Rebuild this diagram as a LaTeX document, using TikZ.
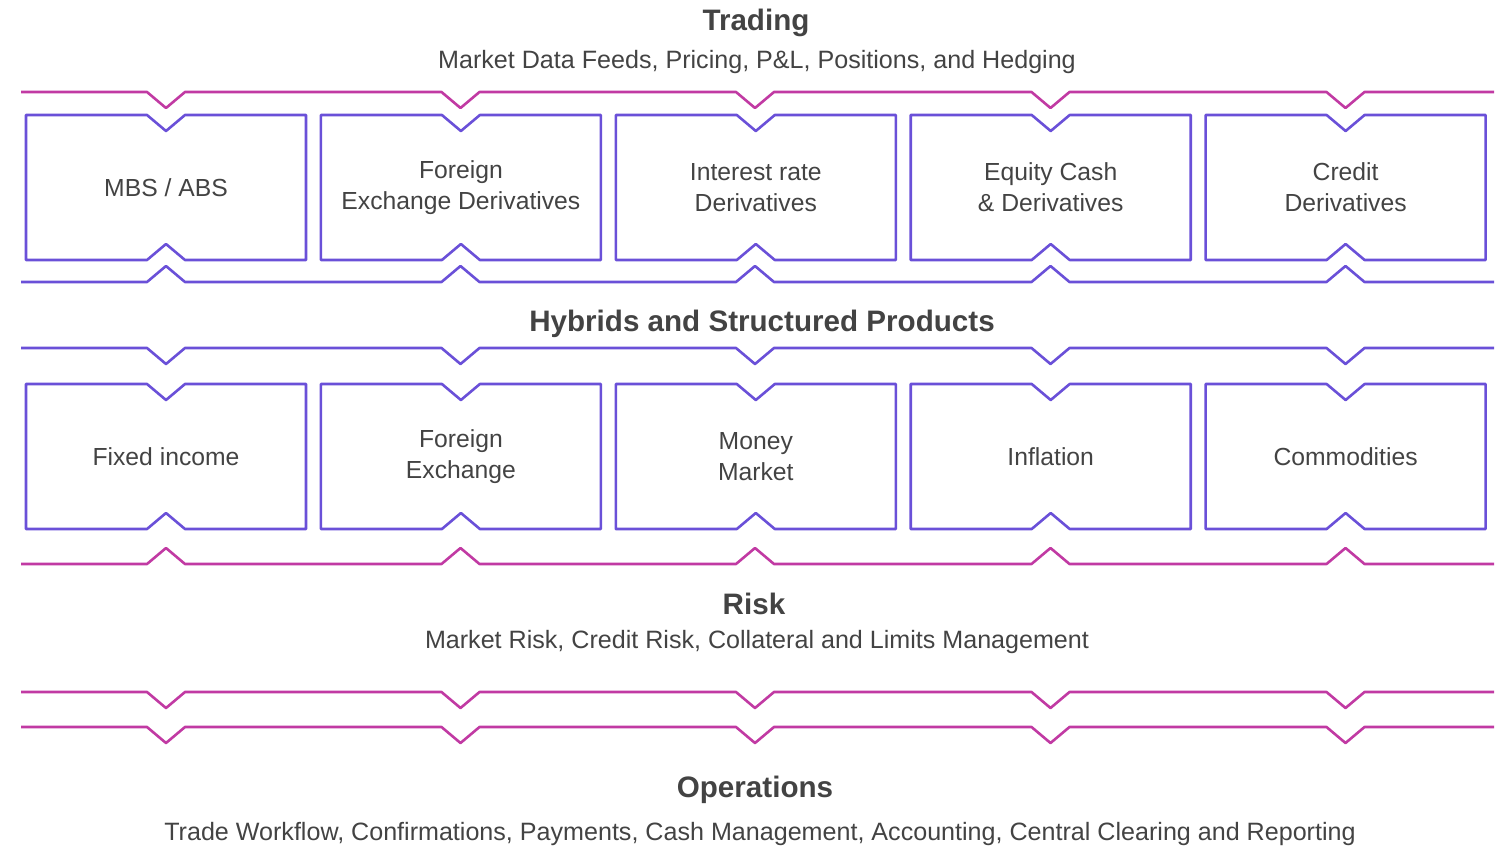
\documentclass[tikz,border=0pt]{standalone}
\usepackage{fontspec}
\setmainfont{Liberation Sans}
\usepackage{xcolor}
\usetikzlibrary{positioning}

\definecolor{magline}{HTML}{C13AA3}
\definecolor{purline}{HTML}{6A50D8}
\definecolor{txtgray}{HTML}{434343}

% notched rule across the page: colour, y, direction (1 = down, -1 = up)
\newcommand{\notchrule}[3]{%
	\draw[#1, line width=2.6pt, line join=round] (21,#2)
		\foreach \c in {166,460.5,755,1050.5,1345.5}{ -- ({\c-19},#2) -- (\c,{#2+16*#3}) -- ({\c+19},#2)} -- (1494,#2);
}
% notched outline round a desk node
\newcommand{\notchbox}[1]{%
	\draw[purline, line width=2.6pt, line join=round] (#1.north west) -- ([xshift=-19pt]#1.north) -- ([yshift=-16pt]#1.north) -- ([xshift=19pt]#1.north) -- (#1.north east)
		-- (#1.south east) -- ([xshift=19pt]#1.south) -- ([yshift=16pt]#1.south) -- ([xshift=-19pt]#1.south) -- (#1.south west) -- cycle;
}

\begin{document}
\begin{tikzpicture}[x=1pt, y=-1pt, text=txtgray, node distance=14.9pt,
		title/.style={font=\fontsize{29.6}{34}\selectfont\bfseries},
		subtitle/.style={font=\fontsize{25.1}{30}\selectfont},
		deskbox/.style={minimum width=280pt, minimum height=145pt, inner sep=0pt, outer sep=0pt, align=center, font=\fontsize{24.7}{31}\selectfont}]
	\useasboundingbox (0,0) rectangle (1504,847);
	
	\node[title] (trading) at (756,22.5) {Trading};
	\node[subtitle] (tradingsub) at (757,62) {Market Data Feeds, Pricing, P\&L, Positions, and Hedging};
	
	\node[deskbox] (mbs) at (166,187.5) {MBS / ABS};
	\node[deskbox, right=of mbs] (fxderiv) {Foreign\\Exchange Derivatives};
	\node[deskbox, right=of fxderiv] (irderiv) {Interest rate\\Derivatives};
	\node[deskbox, right=of irderiv] (eqderiv) {Equity Cash\\\& Derivatives};
	\node[deskbox, right=of eqderiv] (crderiv) {Credit\\Derivatives};
	
	\node[title] (hybrids) at (762,323.5) {Hybrids and Structured Products};
	
	\node[deskbox] (fixedinc) at (166,456.5) {Fixed income};
	\node[deskbox, right=of fixedinc] (fx) {Foreign\\Exchange};
	\node[deskbox, right=of fx] (mm) {Money\\Market};
	\node[deskbox, right=of mm] (inflation) {Inflation};
	\node[deskbox, right=of inflation] (commod) {Commodities};
	
	\node[title] (risk) at (754,603.5) {Risk};
	\node[subtitle] (risksub) at (757,642) {Market Risk, Credit Risk, Collateral and Limits Management};
	
	\node[title] (operations) at (755,789.5) {Operations};
	\node[subtitle] (operationssub) at (760,834) {Trade Workflow, Confirmations, Payments, Cash Management, Accounting, Central Clearing and Reporting};
	
	\foreach \b in {mbs,fxderiv,irderiv,eqderiv,crderiv,fixedinc,fx,mm,inflation,commod}{
		\notchbox{\b}
	}
	
	\notchrule{magline}{92}{1}
	\notchrule{purline}{282}{-1}
	\notchrule{purline}{348}{1}
	\notchrule{magline}{564}{-1}
	\notchrule{magline}{692}{1}
	\notchrule{magline}{727}{1}
\end{tikzpicture}
\end{document}
